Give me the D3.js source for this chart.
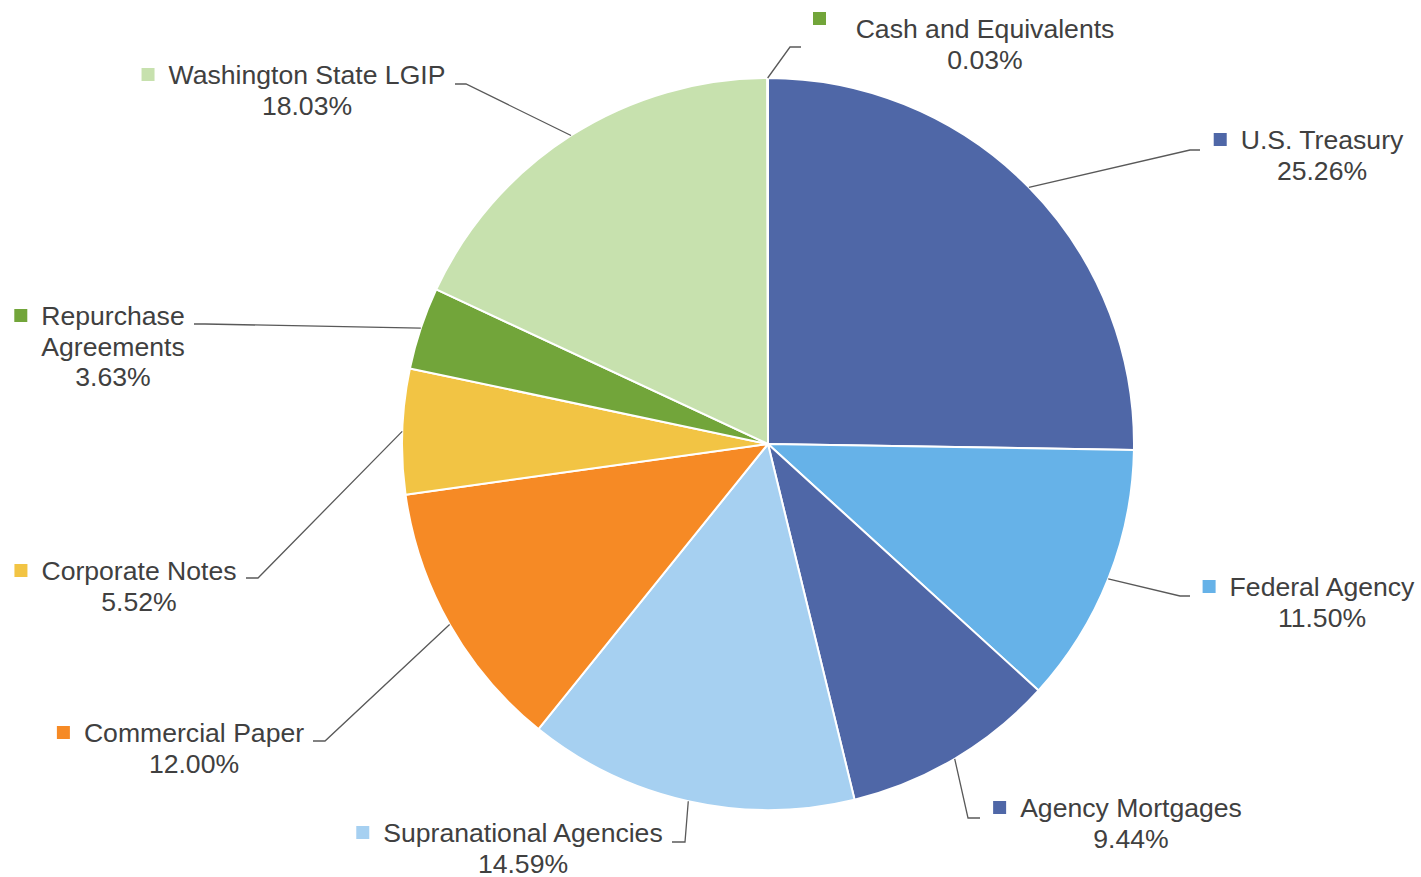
<!DOCTYPE html>
<html>
<head>
<meta charset="utf-8">
<script src="https://cdn.jsdelivr.net/npm/d3@7"></script>
<style>
  html, body { margin: 0; padding: 0; background: #fff; }
  svg { display: block; font-family: "Liberation Sans", Arial, sans-serif; }
</style>
</head>
<body>
<svg id="chart" width="1421" height="877"></svg>
<script>
// Portfolio composition by investment type (percent of total)
const categories = [
  "U.S. Treasury",
  "Federal Agency",
  "Agency Mortgages",
  "Supranational Agencies",
  "Commercial Paper",
  "Corporate Notes",
  "Repurchase Agreements",
  "Washington State LGIP",
  "Cash and Equivalents"
];
const shares = [25.26, 11.50, 9.44, 14.59, 12.00, 5.52, 3.63, 18.03, 0.03];
const colors = [
  "#4F67A7", "#66B2E8", "#4F67A7", "#A6D0F1", "#F68A25",
  "#F2C444", "#72A53A", "#C7E1AE", "#72A53A"
];
// Label text lines per category (category name may wrap)
const labelLines = [
  ["U.S. Treasury"],
  ["Federal Agency"],
  ["Agency Mortgages"],
  ["Supranational Agencies"],
  ["Commercial Paper"],
  ["Corporate Notes"],
  ["Repurchase", "Agreements"],
  ["Washington State LGIP"],
  ["Cash and Equivalents"]
];

// Label layout: text block center x, first line center y, leader elbow and end
const labelLayout = [
  { cx: 1322, cy: 140, elbow: [1190, 150], end: [1200, 150] },
  { cx: 1322, cy: 587, elbow: [1180, 596], end: [1190, 596] },
  { cx: 1131, cy: 808, elbow: [968, 818], end: [980, 818] },
  { cx: 523,  cy: 833, elbow: [685, 842], end: [672, 842] },
  { cx: 194,  cy: 733, elbow: [325, 741], end: [313, 741] },
  { cx: 139,  cy: 571, elbow: [258, 578], end: [246, 578] },
  { cx: 113,  cy: 316, elbow: [205, 324], end: [194, 324] },
  { cx: 307,  cy: 75,  elbow: [466, 84],  end: [455, 84] },
  { cx: 985,  cy: 29,  elbow: [790, 47],  end: [801, 47] }
];

const svg = d3.select("#chart");
const cx = 768, cy = 444, radius = 366;
const lineGap = 30.5;
const fontSize = 26.6;

const data = categories.map((c, i) => ({
  name: c, value: shares[i], color: colors[i], lines: labelLines[i], layout: labelLayout[i]
}));

const pie = d3.pie().sort(null).value(d => d.value);
const arcs = pie(data);
const arc = d3.arc().innerRadius(0).outerRadius(radius);

const g = svg.append("g").attr("transform", `translate(${cx},${cy})`);

g.selectAll("path.slice")
  .data(arcs)
  .join("path")
  .attr("class", "slice")
  .attr("d", arc)
  .attr("fill", d => d.data.color)
  .attr("stroke", "#ffffff")
  .attr("stroke-width", 2)
  .attr("stroke-linejoin", "round");

// Leader lines from slice edge (mid-angle) to labels
svg.selectAll("polyline.leader")
  .data(arcs)
  .join("polyline")
  .attr("class", "leader")
  .attr("fill", "none")
  .attr("stroke", "#595959")
  .attr("stroke-width", 1.3)
  .attr("points", d => {
    const a = (d.startAngle + d.endAngle) / 2;
    const sx = cx + radius * Math.sin(a);
    const sy = cy - radius * Math.cos(a);
    const L = d.data.layout;
    return [[sx, sy], L.elbow, L.end].map(p => p.join(",")).join(" ");
  });

// Labels: category name lines + percentage, with color marker
const labels = svg.selectAll("g.label")
  .data(arcs)
  .join("g")
  .attr("class", "label");

labels.each(function(d) {
  const sel = d3.select(this);
  const L = d.data.layout;
  const lines = d.data.lines.concat([d3.format(".2f")(d.data.value) + "%"]);
  let firstWidth = 0;
  lines.forEach((t, i) => {
    const txt = sel.append("text")
      .attr("x", L.cx)
      .attr("y", L.cy + i * lineGap)
      .attr("text-anchor", "middle")
      .attr("dominant-baseline", "central")
      .attr("font-size", fontSize)
      .attr("fill", "#404040")
      .text(t);
    if (i === 0) firstWidth = txt.node().getComputedTextLength();
  });
  const mx = L.cx - firstWidth / 2 - 14 - 13;
  sel.append("rect")
    .attr("x", mx)
    .attr("y", L.cy - 7)
    .attr("width", 13)
    .attr("height", 13)
    .attr("fill", d.data.color);
});

// Cash marker sits above the label block, offset to the left
labels.filter(d => d.data.name === "Cash and Equivalents").select("rect")
  .attr("x", 813).attr("y", 12);
</script>
</body>
</html>
